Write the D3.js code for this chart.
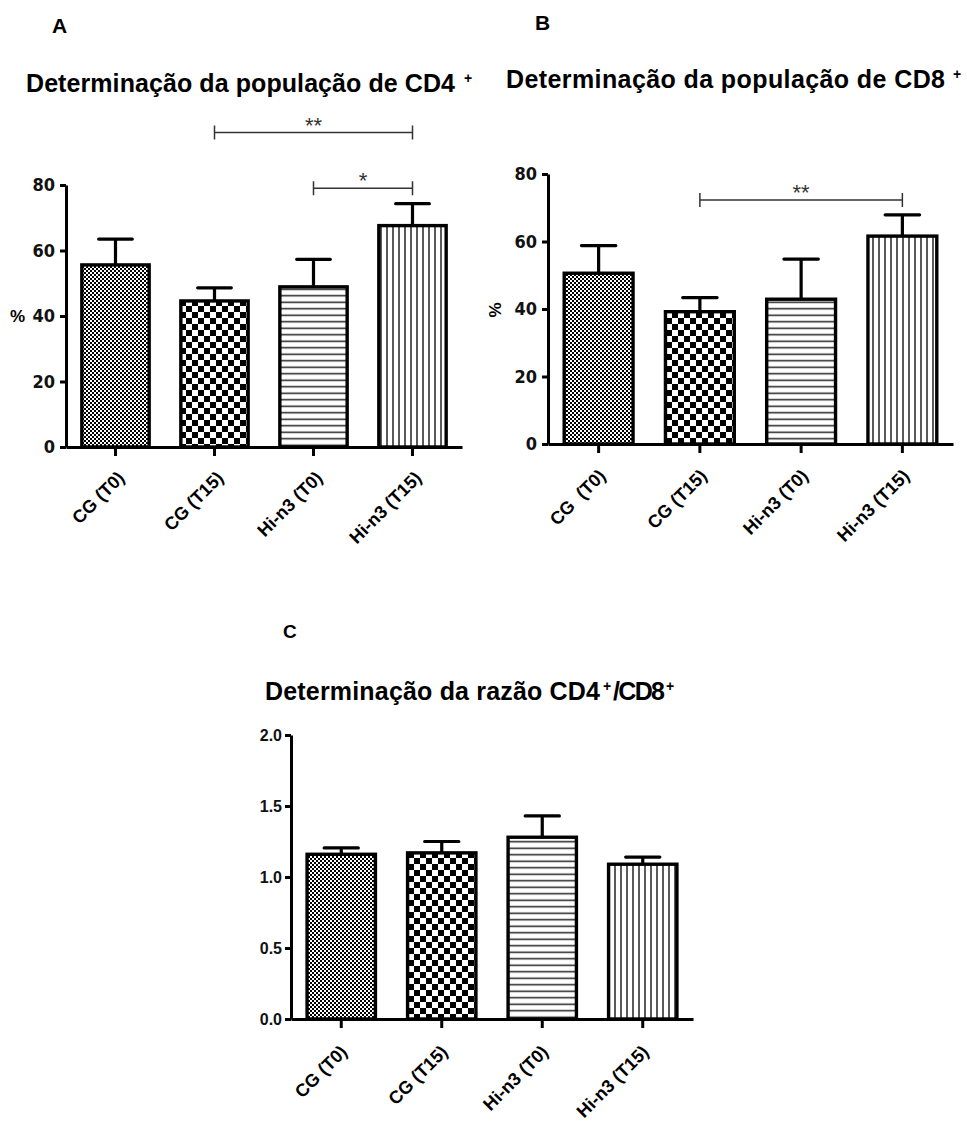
<!DOCTYPE html>
<html>
<head>
<meta charset="utf-8">
<script src="https://cdn.jsdelivr.net/npm/d3@7"></script>
<style>
  body { margin: 0; background: #fff; }
  svg text { font-family: "Liberation Sans", Arial, sans-serif; }
</style>
</head>
<body>
<div id="chart"></div>
<script>
// Values (mean and upper error bar length)
var groupsCD4 = ["CG (T0)", "CG (T15)", "Hi-n3 (T0)", "Hi-n3 (T15)"];
var groupsCD8 = ["CG  (T0)", "CG (T15)", "Hi-n3 (T0)", "Hi-n3 (T15)"];
var groupsRatio = ["CG (T0)", "CG (T15)", "Hi-n3 (T0)", "Hi-n3 (T15)"];

var meanCD4 = [55.6, 44.6, 48.9, 67.6];
var errCD4 = [7.9, 4.0, 8.4, 6.7];
var meanCD8 = [50.6, 39.2, 42.9, 61.6];
var errCD8 = [8.2, 4.2, 11.9, 6.3];
var meanRatio = [1.16, 1.17, 1.28, 1.09];
var errRatio = [0.045, 0.08, 0.15, 0.05];

var ticksPercent = [0, 20, 40, 60, 80];
var ticksRatio = [0, 0.5, 1.0, 1.5, 2.0];

// significance brackets: first group, last group, height (data units), label
var sigCD4 = [[1, 3, 96, "**"], [2, 3, 79, "*"]];
var sigCD8 = [[1, 3, 72.3, "**"]];
var sigRatio = [];

var fills = ["fineCheck", "coarseCheck", "hLines", "vLines"];

var svg = d3.select("#chart").append("svg")
    .attr("width", 967)
    .attr("height", 1124);

// Fill patterns
var defs = svg.append("defs");

var p1 = defs.append("pattern").attr("id", "fineCheck")
    .attr("patternUnits", "userSpaceOnUse").attr("width", 4).attr("height", 4);
p1.append("rect").attr("width", 4).attr("height", 4).attr("fill", "#fff");
p1.append("rect").attr("width", 2).attr("height", 2).attr("fill", "#000");
p1.append("rect").attr("x", 2).attr("y", 2).attr("width", 2).attr("height", 2).attr("fill", "#000");

var p2 = defs.append("pattern").attr("id", "coarseCheck")
    .attr("patternUnits", "userSpaceOnUse").attr("width", 12).attr("height", 12);
p2.append("rect").attr("width", 12).attr("height", 12).attr("fill", "#fff");
p2.append("rect").attr("width", 6).attr("height", 6).attr("fill", "#000");
p2.append("rect").attr("x", 6).attr("y", 6).attr("width", 6).attr("height", 6).attr("fill", "#000");

var p3 = defs.append("pattern").attr("id", "hLines")
    .attr("patternUnits", "userSpaceOnUse").attr("width", 8).attr("height", 6.5);
p3.append("rect").attr("width", 8).attr("height", 6.5).attr("fill", "#fff");
p3.append("line").attr("x1", 0).attr("x2", 8).attr("y1", 3.25).attr("y2", 3.25)
    .attr("stroke", "#222").attr("stroke-width", 1.5);

var p4 = defs.append("pattern").attr("id", "vLines")
    .attr("patternUnits", "userSpaceOnUse").attr("width", 6).attr("height", 8);
p4.append("rect").attr("width", 6).attr("height", 8).attr("fill", "#fff");
p4.append("line").attr("x1", 3).attr("x2", 3).attr("y1", 0).attr("y2", 8)
    .attr("stroke", "#222").attr("stroke-width", 1.5);

// Draws one bar panel with error bars, axes and brackets
function drawPanel(opt) {
    var x = d3.scaleBand()
        .domain(opt.groups)
        .range([opt.left, opt.right])
        .paddingInner(0.32)
        .paddingOuter(0.16);
    var y = d3.scaleLinear()
        .domain([0, opt.max])
        .range([opt.bottom, opt.top]);
    var cx = function(d) { return x(d) + x.bandwidth() / 2; };
    var g = svg.append("g");

    // error bars (upper only)
    g.selectAll(".err")
        .data(opt.groups)
        .enter().append("path")
        .attr("class", "err")
        .attr("d", function(d, i) {
            var hw = x.bandwidth() / 4;
            var yTop = y(opt.means[i] + opt.errs[i]);
            return "M" + cx(d) + "," + y(opt.means[i]) + "V" + yTop +
                "M" + (cx(d) - hw) + "," + yTop + "H" + (cx(d) + hw);
        })
        .attr("fill", "none")
        .attr("stroke", "#000")
        .attr("stroke-width", 3.2)
        .attr("stroke-linecap", "round");

    // bars
    g.selectAll(".bar")
        .data(opt.groups)
        .enter().append("rect")
        .attr("class", "bar")
        .attr("x", function(d) { return x(d); })
        .attr("y", function(d, i) { return y(opt.means[i]); })
        .attr("width", x.bandwidth())
        .attr("height", function(d, i) { return y(0) - y(opt.means[i]); })
        .attr("fill", function(d, i) { return "url(#" + fills[i] + ")"; })
        .attr("stroke", "#000")
        .attr("stroke-width", 3.4);

    // x axis
    var xAxis = g.append("g")
        .attr("transform", "translate(0," + opt.bottom + ")")
        .call(d3.axisBottom(x).tickSize(9).tickSizeOuter(0).tickFormat(""));
    xAxis.select(".domain").attr("stroke-width", 3);
    xAxis.selectAll(".tick line").attr("stroke-width", 3);

    // y axis
    var yAxis = g.append("g")
        .attr("transform", "translate(" + opt.left + ",0)")
        .call(d3.axisLeft(y).tickValues(opt.ticks).tickSize(6).tickSizeOuter(0)
            .tickPadding(opt.tickPad).tickFormat(opt.fmt));
    yAxis.select(".domain").attr("stroke-width", 3);
    yAxis.selectAll(".tick line").attr("stroke-width", 3);
    yAxis.selectAll(".tick text")
        .attr("fill", "#111")
        .style("font-family", opt.tickFont)
        .style("font-size", opt.tickSize + "px")
        .style("font-weight", "bold");

    // rotated category labels
    g.selectAll(".xlab")
        .data(opt.groups)
        .enter().append("text")
        .attr("class", "xlab")
        .attr("transform", function(d) {
            return "translate(" + (cx(d) + opt.labDx) + "," + (opt.bottom + opt.labDy) + ") rotate(-45)";
        })
        .attr("text-anchor", "end")
        .attr("xml:space", "preserve")
        .style("white-space", "pre")
        .style("font-size", "18px")
        .style("font-weight", "bold")
        .text(function(d) { return d; });

    // significance brackets
    opt.sig.forEach(function(s) {
        var x1 = cx(opt.groups[s[0]]), x2 = cx(opt.groups[s[1]]), yy = y(s[2]);
        g.append("path")
            .attr("d", "M" + x1 + "," + (yy - 7) + "V" + (yy + 7) + "M" + x1 + "," + yy + "H" + x2 +
                "M" + x2 + "," + (yy - 7) + "V" + (yy + 7))
            .attr("fill", "none")
            .attr("stroke", "#333")
            .attr("stroke-width", 1.5);
        g.append("text")
            .attr("x", (x1 + x2) / 2)
            .attr("y", yy)
            .attr("text-anchor", "middle")
            .attr("fill", "#333")
            .style("font-size", "22px")
            .text(s[3]);
    });
}

// Title with superscript pieces
function title(parts, y) {
    parts.forEach(function(p) {
        svg.append("text")
            .attr("x", p.x)
            .attr("y", y - (p.sup ? 9 : 0))
            .attr("textLength", p.w)
            .style("font-size", p.sup ? "14px" : "25px")
            .style("font-weight", "bold")
            .text(p.t);
    });
}

function label(t, x, y, size) {
    svg.append("text")
        .attr("x", x).attr("y", y)
        .style("font-size", size + "px")
        .style("font-weight", "bold")
        .text(t);
}

var narrow = "'Liberation Sans Narrow', 'Arial Narrow', 'DejaVu Sans Condensed', sans-serif";

// Panel A
label("A", 52, 33, 21);
title([{ t: "Determinação da população de CD4", x: 26, w: 429 },
       { t: "+", x: 464, w: 8, sup: true }], 92);
drawPanel({
    groups: groupsCD4, means: meanCD4, errs: errCD4, ticks: ticksPercent, max: 80,
    left: 66, right: 462, bottom: 447, top: 185, fmt: d3.format("d"),
    tickFont: narrow, tickSize: 18, tickPad: 5, labDx: 10, labDy: 32, sig: sigCD4
});
label("%", 10, 322, 17);

// Panel B
label("B", 535, 30, 21);
title([{ t: "Determinação da população de CD8", x: 506, w: 439 },
       { t: "+", x: 953, w: 8, sup: true }], 88);
drawPanel({
    groups: groupsCD8, means: meanCD8, errs: errCD8, ticks: ticksPercent, max: 80,
    left: 548, right: 953, bottom: 444, top: 174, fmt: d3.format("d"),
    tickFont: narrow, tickSize: 18, tickPad: 5, labDx: 8, labDy: 33, sig: sigCD8
});
svg.append("text")
    .attr("transform", "translate(501,310) rotate(-90)")
    .attr("text-anchor", "middle")
    .style("font-size", "17px")
    .style("font-weight", "bold")
    .text("%");

// Panel C
label("C", 283, 638, 19);
title([{ t: "Determinação da razão CD4", x: 265, w: 335 },
       { t: "+", x: 603, w: 8, sup: true },
       { t: "/CD8", x: 613, w: 52 },
       { t: "+", x: 666, w: 8, sup: true }], 700);
drawPanel({
    groups: groupsRatio, means: meanRatio, errs: errRatio, ticks: ticksRatio, max: 2,
    left: 291, right: 693, bottom: 1019, top: 735, fmt: d3.format(".1f"),
    tickFont: "'Liberation Sans', Arial, sans-serif", tickSize: 16, tickPad: 3,
    labDx: 7, labDy: 34, sig: sigRatio
});
</script>
</body>
</html>
